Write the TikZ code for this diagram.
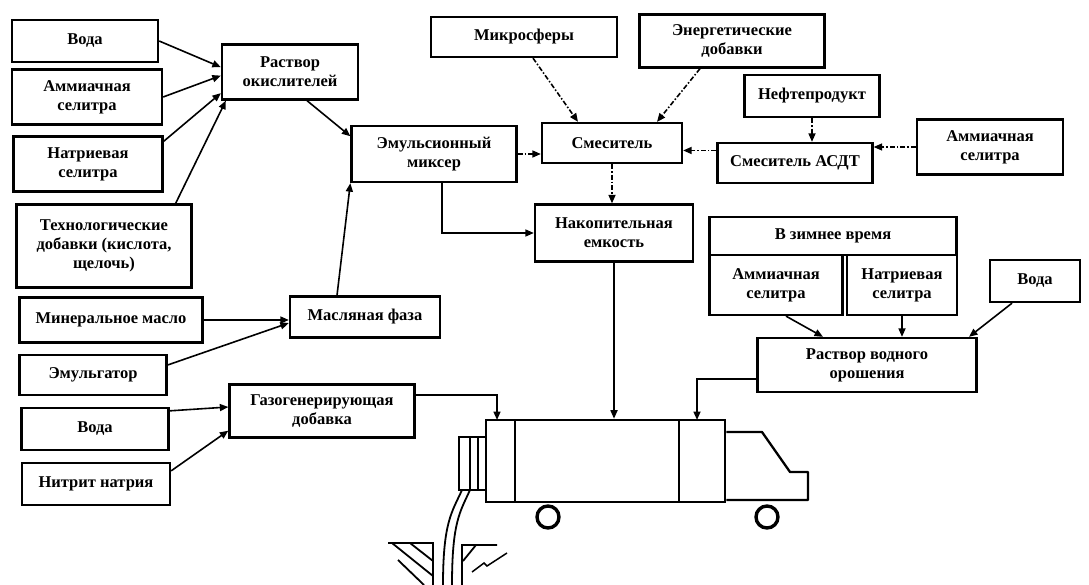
\documentclass[tikz,border=0pt]{standalone}
\usepackage{fontspec}
\setmainfont{Liberation Serif}
\usetikzlibrary{arrows.meta}

\begin{document}
\begin{tikzpicture}[x=1pt,y=-1pt,
    box/.style={draw,line width=2.3pt,align=center,inner sep=2pt,
      font=\bfseries\fontsize{16.5}{19}\selectfont},
    flow/.style={line width=1.6pt,-{Triangle[length=8.5pt,width=7pt]}},
    dflow/.style={flow,dash pattern=on 5pt off 2pt on 1.5pt off 2pt}]

    \useasboundingbox (0,0) rectangle (1089,585);

    %==================== Left column: raw materials ====================
    \node[box,minimum width=146,minimum height=42] (voda1) at (85,41) {Вода};
    \node[box,minimum width=150,minimum height=55] (ammS)  at (87,97) {Аммиачная\\селитра};
    \node[box,minimum width=149,minimum height=55] (natS)  at (88,164) {Натриевая\\селитра};
    \node[box,minimum width=175,minimum height=83] (tech)  at (104,246) {Технологические\\добавки (кислота,\\щелочь)};
    \node[box,minimum width=183,minimum height=45] (minM)  at (111,320) {Минеральное масло};
    \node[box,minimum width=147,minimum height=40] (emulg) at (93,375) {Эмульгатор};
    \node[box,minimum width=147,minimum height=42] (voda2) at (95,429) {Вода};
    \node[box,minimum width=148,minimum height=42] (nitr)  at (96,484) {Нитрит натрия};

    %==================== Middle: solutions and mixers ====================
    \node[box,minimum width=136,minimum height=55] (rastOk) at (290,72) {Раствор\\окислителей};
    \node[box,minimum width=165,minimum height=56] (emMix)  at (434,154) {Эмульсионный\\миксер};
    \node[box,minimum width=150,minimum height=41] (oilPh)  at (365,317) {Масляная фаза};
    \node[box,minimum width=185,minimum height=53] (gasAdd) at (322,411) {Газогенерирующая\\добавка};
    \node[box,minimum width=186,minimum height=40] (micro)  at (524,37) {Микросферы};
    \node[box,minimum width=185,minimum height=53] (energ)  at (732,41) {Энергетические\\добавки};
    \node[box,minimum width=140,minimum height=40] (mixer)  at (612,143) {Смеситель};
    \node[box,minimum width=158,minimum height=57] (store)  at (614,233) {Накопительная\\емкость};

    %==================== Right: ASDT line and water spray ====================
    \node[box,minimum width=135,minimum height=42] (oilProd) at (812,96) {Нефтепродукт};
    \node[box,minimum width=155,minimum height=40] (mixASDT) at (795,163) {Смеситель АСДТ};
    \node[box,minimum width=146,minimum height=55] (ammS2)   at (990,147) {Аммиачная\\селитра};
    \node[box,minimum width=247,minimum height=38] (winter)  at (833,236) {В зимнее время};
    \node[box,minimum width=133,minimum height=60] (ammS3)   at (776,285) {Аммиачная\\селитра};
    \node[box,minimum width=110,minimum height=60] (natS2)   at (902,285) {Натриевая\\селитра};
    \node[box,minimum width=90,minimum height=42]  (voda3)   at (1035,281) {Вода};
    \node[box,minimum width=219,minimum height=54] (rastW)   at (867,365) {Раствор водного\\орошения};

    %==================== Charging truck ====================
    \node[draw,line width=2.6pt,minimum width=239,minimum height=82,inner sep=0pt] (tank) at (605.5,461) {};
    \draw[line width=2.4pt] (515,420) -- (515,502) (679,420) -- (679,502);
    \draw[line width=2.3pt,line join=round]
      (tank.north east |- 0,432) -- (762,432) -- (790,472) -- (808,472) -- (808,500) -- (tank.east |- 0,500);
    \draw[line width=3.4pt] (548,517) circle[radius=11pt] (767,517) circle[radius=11pt];
    % hose reel and hose
    \draw[line width=2pt] (459,437) rectangle (486,490);
    \draw[line width=1.7pt] (470,437) -- (470,490) (478,437) -- (478,490);
    \draw[line width=1.8pt] (462,490) .. controls (452,512) and (443,522) .. (443,585);
    \draw[line width=1.8pt] (470,490) .. controls (460,512) and (452,522) .. (452,585);
    % borehole mouth
    \draw[line width=1.8pt] (388,543) -- (433,543) -- (433,585);
    \draw[line width=1.8pt] (392,543) -- (433,576) (410,543) -- (433,561) (398,560) -- (424,585);
    \draw[line width=1.8pt] (497,545) -- (462,545) -- (462,585) (463,561) -- (476,545);
    \draw[line width=1.5pt] (472,572) -- (484,563) -- (487,566) -- (507,553);

    \coordinate (inG) at (497,420);
    \coordinate (inW) at (697,420);

    %==================== Connectors ====================
    \draw[flow] (voda1.east) -- (rastOk.176);
    \draw[flow] (ammS.east) -- (rastOk.183);
    \draw[flow] ([yshift=-6pt]natS.north east) -- (rastOk.197);
    \draw[flow] ([xshift=-17pt]tech.north east) -- ([xshift=5pt]rastOk.south west);
    \draw[flow] ([xshift=17pt]rastOk.south) -- (emMix.168);
    \draw[flow] ([xshift=-28pt]oilPh.north) -- (emMix.south west);
    \draw[flow] (minM.east) -- (minM.east -| oilPh.west);
    \draw[flow] ([yshift=10pt]emulg.east) -- ([yshift=-6pt]oilPh.west);
    \draw[flow] ([yshift=-4pt]voda2.north east) -- ([yshift=4pt]gasAdd.west);
    \draw[flow] ([yshift=-9pt]nitr.north east) -- ([yshift=8pt]gasAdd.south west);
    \draw[flow] ([xshift=8pt]emMix.south) |- (store.west);
    \draw[flow] ([yshift=16pt]gasAdd.east) -| (inG);
    \draw[flow] (store.south) -- (store.south |- tank.north);
    \draw[flow] ([yshift=-14pt]rastW.west) -| (inW);

    \draw[dflow] (emMix.east) -- (emMix.east -| mixer.west);
    \draw[dflow] ([xshift=9pt]micro.south) -- ([xshift=-34pt]mixer.north);
    \draw[dflow] ([xshift=-32pt]energ.south) -- ([xshift=45pt]mixer.north);
    \draw[dflow] (oilProd.south) -- (oilProd.south |- mixASDT.north);
    \draw[dflow] (mixer.-6 -| mixASDT.west) -- (mixer.-6);
    \draw[dflow] (ammS2.west) -- (ammS2.west -| mixASDT.east);
    \draw[dflow] (mixer.south) -- (mixer.south |- store.north);

    \draw[flow] ([xshift=10pt]ammS3.south) -- ([xshift=-44pt]rastW.north);
    \draw[flow] (natS2.south) -- (natS2.south |- rastW.north);
    \draw[flow] ([xshift=-23pt]voda3.south) -- ([xshift=102pt]rastW.north);

  \end{tikzpicture}
\end{document}
